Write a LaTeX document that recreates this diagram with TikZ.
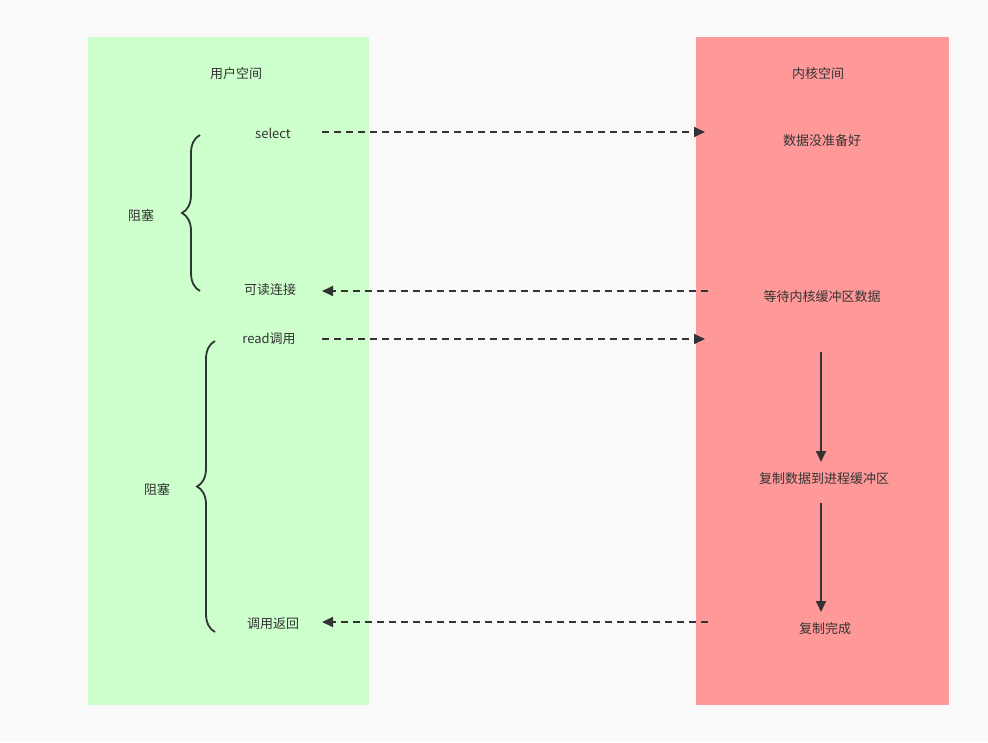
\documentclass[tikz,border=0pt]{standalone}
\usepackage{fontspec}
\setmainfont{Noto Sans CJK SC}
\usetikzlibrary{decorations.pathreplacing,arrows.meta}
\definecolor{bg}{HTML}{F9F9F9}
\definecolor{ug}{HTML}{CCFFCC}
\definecolor{kr}{HTML}{FF9999}
\definecolor{ink}{HTML}{333333}
\begin{document}
\begin{tikzpicture}[x=1pt,y=-1pt,
  lbl/.style={font=\fontsize{13}{15}\selectfont,text=ink},
  da/.style={ink,line width=1.8pt,dash pattern=on 7pt off 5pt,-{Triangle[length=11pt,width=10pt]}},
  sa/.style={ink,line width=1.8pt,-{Triangle[length=11pt,width=10pt]}},
  br/.style={ink,line width=1.8pt,decorate,decoration={brace,amplitude=18pt}}]
\fill[bg] (0,0) rectangle (988,742);
\fill[ug] (88,37) rectangle (369,705);
\fill[kr] (696,37) rectangle (949,705);
\node[lbl] (us) at (236,74) {用户空间};
\node[lbl] (ks) at (818,74) {内核空间};
\node[lbl] (sel) at (273,133) {select};
\node[lbl] (kd) at (822,141) {数据没准备好};
\node[lbl] (kdj) at (270,290) {可读连接};
\node[lbl] (wait) at (822,297) {等待内核缓冲区数据};
\node[lbl] (rd) at (269,339) {read调用};
\node[lbl] (cp) at (824,479) {复制数据到进程缓冲区};
\node[lbl] (ret) at (273,624) {调用返回};
\node[lbl] (done) at (825,629) {复制完成};
\node[lbl] (b1) at (141,215) {阻塞};
\node[lbl] (b2) at (157,489) {阻塞};
\coordinate (s1) at (322,132); \coordinate (e1) at (705,132);
\coordinate (s2) at (708,291); \coordinate (e2) at (322,291);
\coordinate (s3) at (322,339); \coordinate (e3) at (705,339);
\coordinate (s4) at (708,622); \coordinate (e4) at (322,622);
\coordinate (v1) at (821,352); \coordinate (v2) at (821,462);
\coordinate (v3) at (821,503); \coordinate (v4) at (821,612);
\draw[da] (s1) -- (e1);
\draw[da] (s2) -- (e2);
\draw[da] (s3) -- (e3);
\draw[da] (s4) -- (e4);
\draw[sa] (v1) -- (v2);
\draw[sa] (v3) -- (v4);
\coordinate (a1) at (200,291); \coordinate (a2) at (200,135);
\coordinate (c1) at (215,632); \coordinate (c2) at (215,341);
\draw[br] (a1) -- (a2);
\draw[br] (c1) -- (c2);
\end{tikzpicture}
\end{document}
